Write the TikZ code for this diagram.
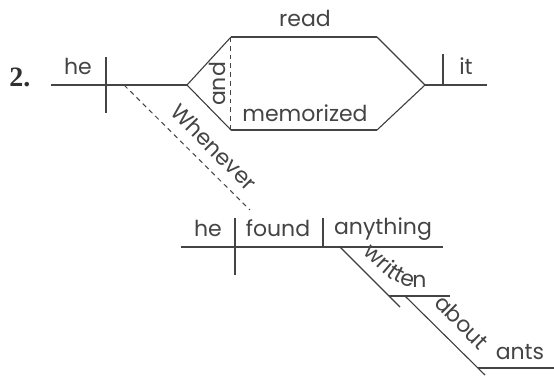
\documentclass[tikz,border=0pt]{standalone}
\usepackage{fontspec}
\newfontfamily\lblfont{Poppins}
\newfontfamily\numfont{Liberation Serif}
\usetikzlibrary{decorations.text}
\definecolor{ink}{HTML}{444444}
\tikzset{
	rule/.style={draw=ink, line width=0.75pt},
	slant/.style={draw=ink!90!black, line width=0.55pt},
	dashrule/.style={draw=ink, line width=0.5pt, dash pattern=on 2.4pt off 2pt},
	word/.style={font=\lblfont\fontsize{11}{13}\selectfont, text=ink, inner sep=0pt},
}

\begin{document}
\begin{tikzpicture}[x=0.5pt, y=-0.5pt]
	\useasboundingbox (0,0) rectangle (554,377);

	% main clause: he read and memorized it
	\coordinate (s0) at (51,85);
	\coordinate (fork) at (187,85);
	\coordinate (sv) at (106,85);
	\coordinate (up1) at (231,37);
	\coordinate (up2) at (377,37);
	\coordinate (lo1) at (231,130);
	\coordinate (lo2) at (377,130);
	\coordinate (join) at (425,85);
	\coordinate (s1) at (487,85);
	\coordinate (vo) at (443,85);
	\coordinate (whn) at (124,85);

	\draw[rule] (s0) -- (fork);
	\draw[rule] (sv |- 0,57) -- (sv |- 0,113);
	\draw[slant] (fork) -- (up1);
	\draw[slant] (fork) -- (lo1);
	\draw[rule] (up1) -- (up2);
	\draw[rule] (lo1) -- (lo2);
	\draw[slant] (up2) -- (join);
	\draw[slant] (lo2) -- (join);
	\draw[dashrule] (up1) -- (lo1);
	\draw[rule] (join) -- (s1);
	\draw[rule] (vo |- 0,54) -- (vo);

	\node[font=\numfont\fontsize{14}{16}\selectfont\bfseries, text=ink!70!black] (num) at (20,77) {2.};
	\node[word] (he) at (78,66) {he};
	\node[word] (read) at (305,18) {read};
	\node[word] (memo) at (305,113) {memorized};
	\node[word, rotate=90] (and) at (217,84) {and};
	\node[word] (it) at (466,66) {it};

	% subordinate clause: whenever he found anything written about ants
	\coordinate (t0) at (181,247);
	\coordinate (t1) at (443,247);
	\coordinate (tsv) at (235,247);
	\coordinate (tvo) at (323,247);
	\coordinate (pt0) at (340,247);
	\coordinate (pt1) at (400,307);
	\coordinate (wr0) at (389,296);
	\coordinate (wr1) at (450,296);
	\coordinate (ab0) at (405,296);
	\coordinate (ab1) at (485,375);
	\coordinate (an0) at (478,368);
	\coordinate (an1) at (554,368);
	\coordinate (whend) at (250,210);

	\draw[dashrule] (whn) -- (whend);
	\node[word, rotate=-45] (whenever) at (214,147) {Whenever};

	\draw[rule] (t0) -- (t1);
	\draw[rule] (tsv |- 0,218) -- (tsv |- 0,275);
	\draw[rule] (tvo |- 0,218) -- (tvo);
	\draw[slant] (pt0) -- (pt1);
	\draw[rule] (wr0) -- (wr1);
	\draw[slant] (ab0) -- (ab1);
	\draw[rule] (an0) -- (an1);

	\node[word] (he2) at (208,228) {he};
	\node[word] (found) at (278,228) {found};
	\node[word] (anything) at (383,229) {anything};
	\path[decorate, decoration={text along path, text align=left,
		text={|\lblfont\fontsize{11}{13}\selectfont\color{ink}|written}}]
		(362,254) .. controls (384,272) and (392,287) .. (418,287) -- (452,287);
	\node[word, rotate=-45] (about) at (462,322) {about};
	\node[word] (ants) at (520,352) {ants};
\end{tikzpicture}
\end{document}
